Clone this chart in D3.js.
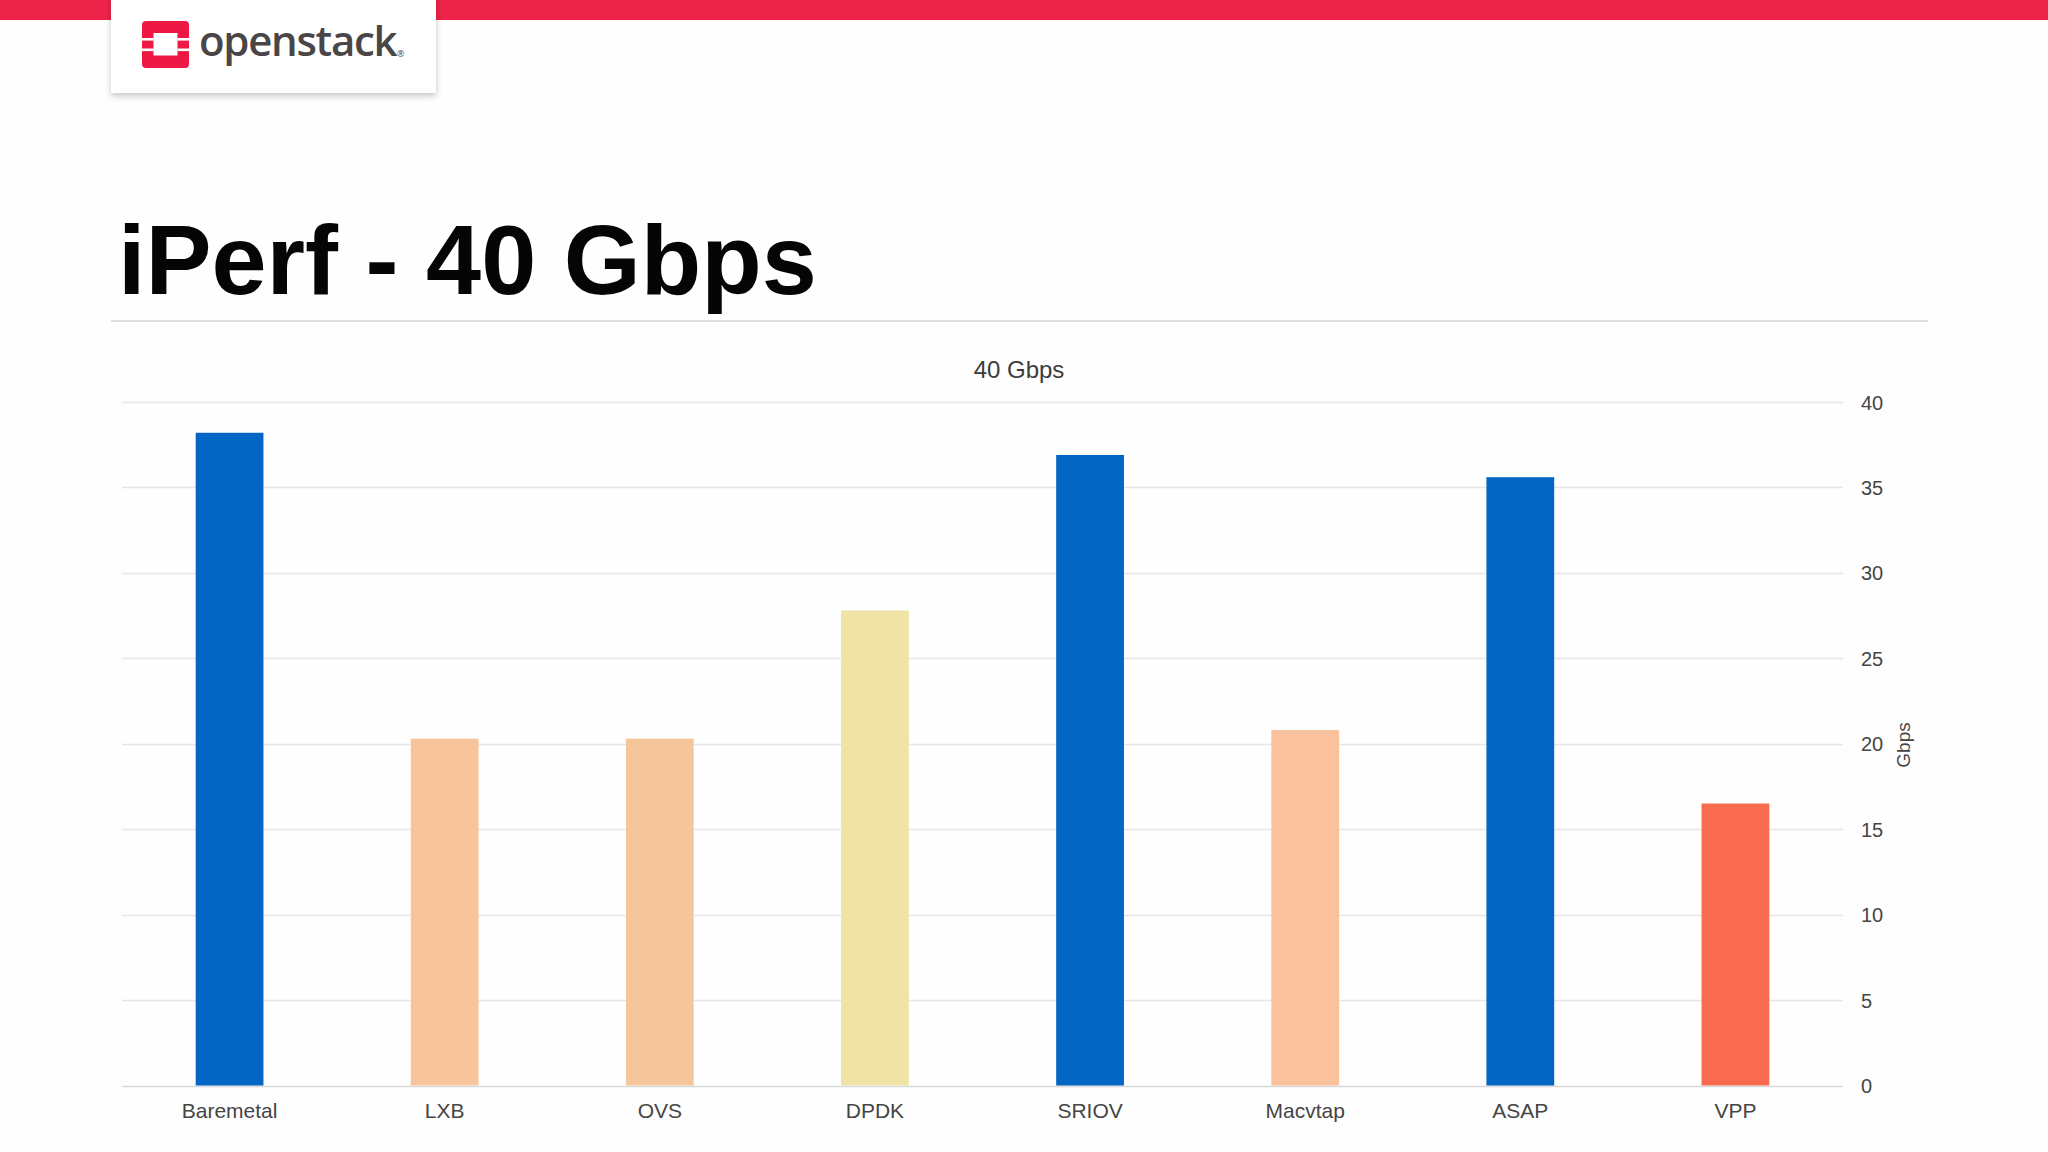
<!DOCTYPE html>
<html>
<head>
<meta charset="utf-8">
<script src="https://cdn.jsdelivr.net/npm/d3@7"></script>
<style>
  html, body { margin: 0; padding: 0; background: #fefefe; }
  svg { display: block; }
</style>
</head>
<body>
<svg id="chart" width="2048" height="1152"></svg>
<script>
const categories = ["Baremetal", "LXB", "OVS", "DPDK", "SRIOV", "Macvtap", "ASAP", "VPP"];
const values = [38.2, 20.3, 20.3, 27.8, 36.9, 20.8, 35.6, 16.5];
const barColors = ["#0366c4", "#f8c49c", "#f5c59c", "#f0e3a6", "#0366c4", "#f9c29c", "#0366c4", "#f86b4e"];
const yTicks = [0, 5, 10, 15, 20, 25, 30, 35, 40];
const slideTitle = "iPerf - 40 Gbps";
const chartTitle = "40 Gbps";
const yAxisLabel = "Gbps";

(function () {
const svg = d3.select("#chart");

svg.append("rect").attr("width", 2048).attr("height", 1152).attr("fill", "#fefefe");

// Top red band
svg.append("rect").attr("x", 0).attr("y", 0).attr("width", 2048).attr("height", 20).attr("fill", "#ee2349");

// Logo card with shadow
const defs = svg.append("defs");
const f = defs.append("filter").attr("id", "shadow").attr("x", "-10%").attr("y", "-10%").attr("width", "120%").attr("height", "140%");
f.append("feDropShadow").attr("dx", 0).attr("dy", 3).attr("stdDeviation", 3).attr("flood-color", "#000").attr("flood-opacity", 0.22);
svg.append("rect").attr("x", 111).attr("y", -5).attr("width", 325).attr("height", 98)
  .attr("fill", "#ffffff").attr("filter", "url(#shadow)");

// OpenStack icon
const logo = svg.append("g").attr("transform", "translate(142,21)");
logo.append("rect").attr("width", 47).attr("height", 47).attr("rx", 4).attr("fill", "#ed1944");
logo.append("rect").attr("x", 11.5).attr("y", 12).attr("width", 24).attr("height", 22.5).attr("fill", "#ffffff");
[17, 27.5].forEach(yy => {
  logo.append("rect").attr("x", 0).attr("y", yy).attr("width", 11.5).attr("height", 2.6).attr("fill", "#ffffff");
  logo.append("rect").attr("x", 35.5).attr("y", yy).attr("width", 11.5).attr("height", 2.6).attr("fill", "#ffffff");
});
svg.append("text").attr("x", 199).attr("y", 56)
  .attr("font-family", "'Open Sans', sans-serif").attr("font-size", 42).attr("font-weight", 600)
  .attr("fill", "#4a4546").attr("letter-spacing", -1.3).text("openstack");
svg.append("text").attr("x", 397).attr("y", 57)
  .attr("font-family", "'Open Sans', sans-serif").attr("font-size", 9)
  .attr("fill", "#4a4546").text("®");

// Slide title
svg.append("text").attr("x", 118).attr("y", 294)
  .attr("font-family", "'Liberation Sans', Arial, sans-serif").attr("font-weight", "bold")
  .attr("font-size", 99).attr("fill", "#050505").text(slideTitle);

// Rule under title
svg.append("rect").attr("x", 111).attr("y", 320).attr("width", 1817).attr("height", 2).attr("fill", "#dedede");

// Chart
const pLeft = 122, pRight = 1843, pTop = 402, pBottom = 1085.5;

const x = d3.scaleBand().domain(categories).range([pLeft, pRight])
  .paddingInner(0.685).paddingOuter(0.3425);
const y = d3.scaleLinear().domain([0, 40]).range([pBottom, pTop]);

// Gridlines
svg.append("g").selectAll("line").data(yTicks).join("line")
  .attr("x1", pLeft).attr("x2", pRight)
  .attr("y1", d => Math.round(y(d)) + 0.5).attr("y2", d => Math.round(y(d)) + 0.5)
  .attr("stroke", d => d === 0 ? "#d9d9d9" : "#e6e6e6").attr("stroke-width", 1.5);

// Bars
svg.append("g").selectAll("rect").data(categories).join("rect")
  .attr("x", d => x(d)).attr("width", x.bandwidth())
  .attr("y", (d, i) => y(values[i])).attr("height", (d, i) => y(0) - y(values[i]))
  .attr("fill", (d, i) => barColors[i]);

// Right y axis
const yAxis = d3.axisRight(y).tickValues(yTicks).tickSize(0).tickPadding(0);
const ya = svg.append("g").attr("transform", `translate(${pRight + 18},0)`).call(yAxis);
ya.select(".domain").remove();
ya.selectAll("text").attr("font-family", "'Liberation Sans', Arial, sans-serif")
  .attr("font-size", 20).attr("fill", "#454545").attr("dy", "0.35em");

// X axis labels
const xAxis = d3.axisBottom(x).tickSize(0).tickPadding(0);
const xa = svg.append("g").attr("transform", `translate(0,${pBottom + 18})`).call(xAxis);
xa.select(".domain").remove();
xa.selectAll("text").attr("font-family", "'Liberation Sans', Arial, sans-serif")
  .attr("font-size", 21).attr("fill", "#454545").attr("dy", "0.71em");

// Chart title
svg.append("text").attr("x", 1019).attr("y", 378).attr("text-anchor", "middle")
  .attr("font-family", "'Liberation Sans', Arial, sans-serif").attr("font-size", 24)
  .attr("fill", "#3c3c3c").text(chartTitle);

// Y axis title
svg.append("text").attr("transform", "translate(1910,745) rotate(-90)").attr("text-anchor", "middle")
  .attr("font-family", "'Liberation Sans', Arial, sans-serif").attr("font-size", 19)
  .attr("fill", "#454545").text(yAxisLabel);
})();
</script>
</body>
</html>
